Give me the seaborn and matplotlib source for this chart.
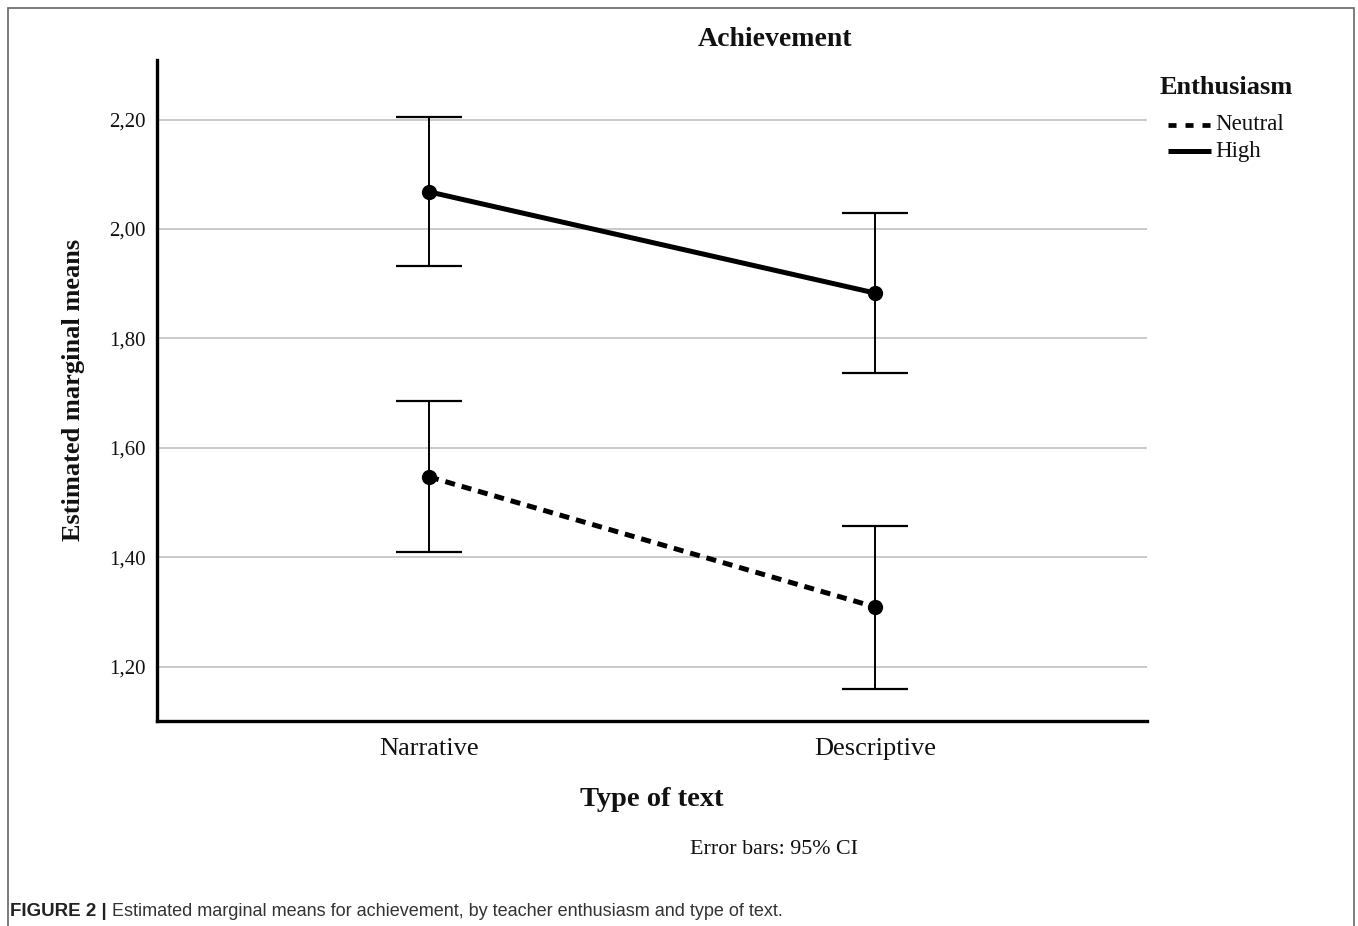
import matplotlib
matplotlib.use('Agg')
import matplotlib.pyplot as plt
import seaborn as sns
import pandas as pd
from matplotlib.lines import Line2D
from matplotlib.patches import Rectangle

# ---- data ----
text_types = ['Narrative', 'Descriptive']
groups = ['Neutral', 'High']
neutral_mean = [1.547, 1.309]
neutral_lo = [1.409, 1.160]
neutral_hi = [1.685, 1.457]
high_mean = [2.068, 1.883]
high_lo = [1.932, 1.737]
high_hi = [2.204, 2.030]
ytick_vals = [1.2, 1.4, 1.6, 1.8, 2.0, 2.2]
ytick_labels = ['1,20', '1,40', '1,60', '1,80', '2,00', '2,20']

df = pd.DataFrame({
    'Type of text': text_types * 2,
    'Enthusiasm': ['Neutral'] * 2 + ['High'] * 2,
    'mean': neutral_mean + high_mean,
    'lo': neutral_lo + high_lo,
    'hi': neutral_hi + high_hi,
})

sns.set_theme(style='white')
plt.rcParams['font.family'] = ['Liberation Serif', 'DejaVu Serif']

W, H = 1358, 926
fig = plt.figure(figsize=(W / 100, H / 100), dpi=100)
ax = fig.add_axes([157 / W, 1 - 721 / H, (1147 - 157) / W, (721 - 60) / H])

# error bars (95% CI)
for g in groups:
    sub = df[df['Enthusiasm'] == g]
    xpos = [text_types.index(t) for t in sub['Type of text']]
    m = sub['mean'].to_numpy()
    ax.errorbar(xpos, m, yerr=[m - sub['lo'].to_numpy(), sub['hi'].to_numpy() - m],
                fmt='none', ecolor='black', elinewidth=1.4, capsize=24,
                capthick=1.6, zorder=1.5)

sns.lineplot(data=df, x='Type of text', y='mean', hue='Enthusiasm',
             style='Enthusiasm', palette={'Neutral': 'black', 'High': 'black'},
             dashes={'Neutral': (2, 1.4), 'High': ''},
             markers={'Neutral': 'o', 'High': 'o'}, markersize=11,
             markeredgewidth=0, linewidth=3.6, legend=False, sort=False,
             ax=ax, zorder=3)

ax.set_xlim(-0.61, 1.61)
ax.set_ylim(1.1006, 2.309)
ax.set_yticks(ytick_vals, ytick_labels)
ax.set_axisbelow(True)
ax.grid(axis='y', color='#c6c6c6', lw=1.3)
ax.grid(axis='x', visible=False)
for s in ['top', 'right']:
    ax.spines[s].set_visible(False)
for s in ['left', 'bottom']:
    ax.spines[s].set_color('black')
    ax.spines[s].set_linewidth(2.4)
ax.tick_params(axis='y', length=0, pad=8, labelsize=15, labelcolor='#111')
ax.tick_params(axis='x', length=0, pad=12, labelsize=19, labelcolor='#111')
ax.set_xlabel('')
ax.set_ylabel('')

# texts
fig.text(775 / W, 1 - 40 / H, 'Achievement', ha='center', va='center',
         fontsize=20, weight='bold', color='#111')
fig.text(74 / W, 1 - 390 / H, 'Estimated marginal means', ha='center',
         va='center', rotation=90, fontsize=19, weight='bold', color='#111')
fig.text(652 / W, 1 - 800 / H, 'Type of text', ha='center', va='center',
         fontsize=20.5, weight='bold', color='#111')
fig.text(774 / W, 1 - 850 / H, 'Error bars: 95% CI', ha='center', va='center',
         fontsize=15.8, color='#111')

# legend (built by hand to match the spacing)
fig.text(1160 / W, 1 - 87 / H, 'Enthusiasm', ha='left', va='center',
         fontsize=19, weight='bold', color='#111')
legend_rows = {'Neutral': 125, 'High': 151}
legend_styles = {'Neutral': dict(lw=3.4, dashes=(1.7, 1.9)),
                 'High': dict(lw=3.6)}
for g in groups:
    yy = 1 - legend_rows[g] / H
    fig.add_artist(Line2D([1168 / W, 1211 / W], [yy, yy], color='black',
                          solid_capstyle='butt', dash_capstyle='butt',
                          transform=fig.transFigure, **legend_styles[g]))
    fig.text(1215 / W, yy, g, ha='left', va='center', fontsize=16.5,
             color='#111')

# caption
t1 = fig.text(10 / W, 1 - 911 / H, 'FIGURE 2 |', ha='left', va='center',
              fontsize=13.5, weight='bold', family='Liberation Sans', color='#222')
fig.canvas.draw()
bb = t1.get_window_extent()
fig.text((bb.x1 + 5) / W, 1 - 911 / H,
         'Estimated marginal means for achievement, by teacher enthusiasm and type of text.',
         ha='left', va='center', fontsize=13, family='Liberation Sans', color='#333')

# outer frame
fig.add_artist(Rectangle((8 / W, -0.05), (1354 - 8) / W, 1.05 - 8 / H,
                         transform=fig.transFigure, fill=False,
                         edgecolor='#666', lw=1.2))

fig.savefig('out.png', dpi=100)
